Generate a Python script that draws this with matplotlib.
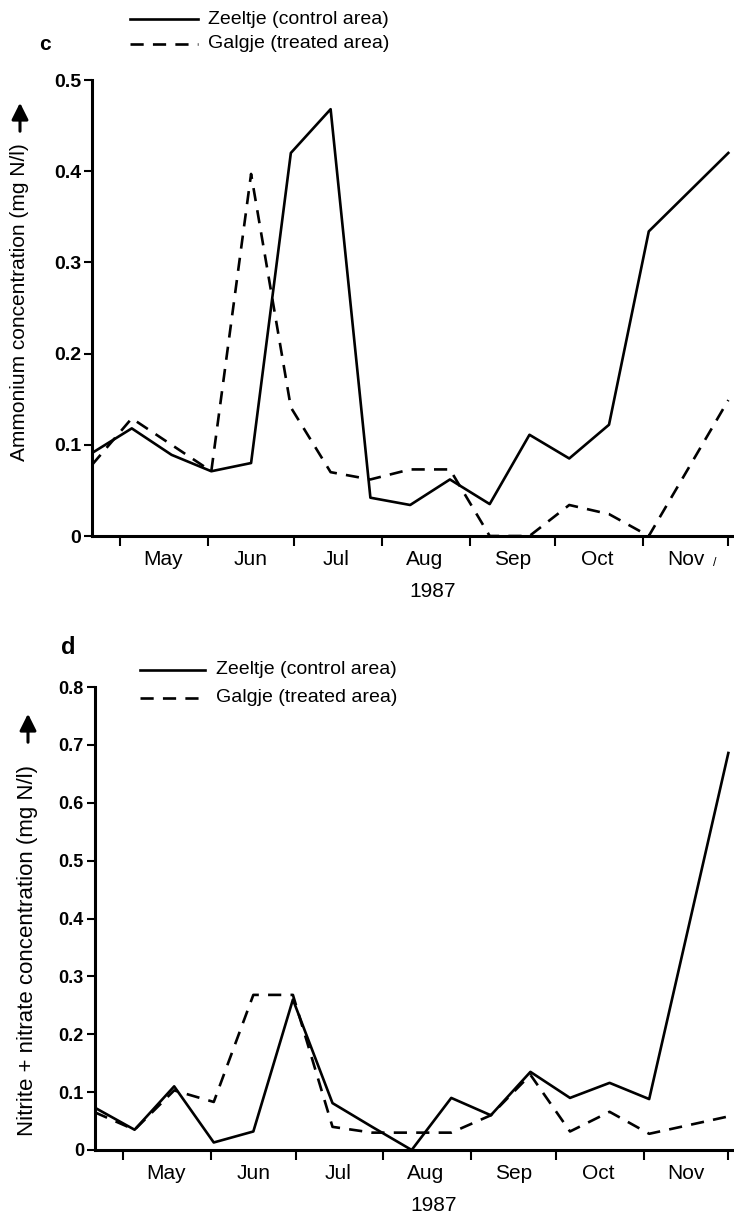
import datetime as dt
import matplotlib
matplotlib.use("Agg")
import matplotlib.pyplot as plt
import matplotlib.dates as mdates

# sampling dates (biweekly), 1987
sample_dates = ["1987-04-21", "1987-05-05", "1987-05-19", "1987-06-02",
                "1987-06-16", "1987-06-30", "1987-07-14", "1987-07-28",
                "1987-08-11", "1987-08-25", "1987-09-08", "1987-09-22",
                "1987-10-06", "1987-10-20", "1987-11-03", "1987-12-01"]

# panel c: ammonium (mg N/l)
nh4_zeeltje = [0.091, 0.118, 0.089, 0.071, 0.080, 0.420, 0.468, 0.042,
               0.034, 0.062, 0.035, 0.111, 0.085, 0.122, 0.334, 0.420]
nh4_galgje = [0.078, 0.129, 0.100, 0.071, 0.397, 0.141, 0.070, 0.062,
              0.073, 0.073, 0.000, 0.000, 0.034, 0.024, 0.000, 0.149]

# panel d: nitrite + nitrate (mg N/l)
no3_zeeltje = [0.073, 0.035, 0.110, 0.013, 0.032, 0.260, 0.081, 0.040,
               0.000, 0.090, 0.060, 0.135, 0.090, 0.116, 0.088, 0.686]
no3_galgje = [0.065, 0.035, 0.103, 0.083, 0.268, 0.268, 0.040, 0.030,
              0.030, 0.030, 0.060, 0.130, 0.032, 0.066, 0.028, 0.058]

nh4_ticks = [0, 0.1, 0.2, 0.3, 0.4, 0.5]
nh4_ticklabels = ["0", "0.1", "0.2", "0.3", "0.4", "0.5"]
no3_ticks = [0, 0.1, 0.2, 0.3, 0.4, 0.5, 0.6, 0.7, 0.8]
no3_ticklabels = ["0", "0.1", "0.2", "0.3", "0.4", "0.5", "0.6", "0.7", "0.8"]

series_names = ["Zeeltje (control area)", "Galgje (treated area)"]

dates = [dt.datetime.strptime(d, "%Y-%m-%d") for d in sample_dates]
x_start = dt.datetime(1987, 4, 21)
x_end = dt.datetime(1987, 12, 3)

txt_font = ["Liberation Sans", "DejaVu Sans"]
W, H = 734, 1221
fig = plt.figure(figsize=(W / 100, H / 100), dpi=100)


def px_box(left, top, right, bottom):
    return [left / W, 1 - bottom / H, (right - left) / W, (bottom - top) / H]


def fx(px):
    return px / W


def fy(px):
    return 1 - px / H


def draw_panel(rect, zeeltje, galgje, ticks, ticklabels, tick_size):
    ax = fig.add_axes(rect)
    ax.plot(dates, zeeltje, color="black", lw=1.9)
    ax.plot(dates, galgje, color="black", lw=1.9, dashes=(5, 3.5))
    ax.set_xlim(x_start, x_end)
    ax.set_ylim(0, ticks[-1])

    for side in ("top", "right"):
        ax.spines[side].set_visible(False)
    for side in ("left", "bottom"):
        ax.spines[side].set_linewidth(2.2)
    ax.patch.set_alpha(0)

    ax.set_yticks(ticks)
    ax.set_yticklabels(ticklabels, fontsize=tick_size, fontweight="bold",
                       family="Liberation Sans")
    ax.tick_params(axis="y", length=6, width=1.5, pad=2)

    ax.xaxis.set_major_locator(mdates.MonthLocator(bymonth=range(5, 13)))
    ax.xaxis.set_major_formatter(plt.NullFormatter())
    ax.xaxis.set_minor_locator(mdates.MonthLocator(bymonth=range(5, 12), bymonthday=16))
    ax.xaxis.set_minor_formatter(mdates.DateFormatter("%b"))
    ax.tick_params(axis="x", which="major", length=7, width=1.5)
    ax.tick_params(axis="x", which="minor", length=0, pad=10)
    for lab in ax.get_xticklabels(minor=True):
        lab.set_family(txt_font)
        lab.set_fontsize(15)

    ax.text(0.53, -0.1, "1987", transform=ax.transAxes, ha="center",
            va="top", family=txt_font, fontsize=15)
    return ax


def y_label(text, x, y_mid, size, arrow_x, arrow_y0, arrow_y1):
    fig.text(fx(x), fy(y_mid), text, rotation=90, ha="center", va="center",
             family=txt_font, fontsize=size)
    fig.add_artist(matplotlib.patches.FancyArrowPatch(
        (fx(arrow_x), fy(arrow_y0)), (fx(arrow_x), fy(arrow_y1)),
        transform=fig.transFigure, arrowstyle="-|>,head_length=5,head_width=2.5",
        color="black", lw=2.2, mutation_scale=2))


ax_c = draw_panel(px_box(92, 80, 734, 536), nh4_zeeltje, nh4_galgje,
                  nh4_ticks, nh4_ticklabels, 14)
ax_d = draw_panel(px_box(95, 687, 734, 1150), no3_zeeltje, no3_galgje,
                  no3_ticks, no3_ticklabels, 13)

y_label("Ammonium concentration (mg N/l)", 20, 302, 15, 20, 134, 100)
y_label("Nitrite + nitrate concentration (mg N/l)", 28, 950, 16, 28, 745, 711)

# small slash after "Nov" in panel c
ax_c.text(0.97, -0.045, "/", transform=ax_c.transAxes, ha="center", va="top",
          fontsize=9, family=txt_font)


def legend_block(x0, x1, y_solid, y_dash, tx):
    fig.lines.append(plt.Line2D([fx(x0), fx(x1)], [fy(y_solid)] * 2,
                                color="black", lw=1.9, transform=fig.transFigure))
    fig.lines.append(plt.Line2D([fx(x0), fx(x1)], [fy(y_dash)] * 2,
                                color="black", lw=1.9, dashes=(5, 3.5),
                                transform=fig.transFigure))
    fig.text(fx(tx), fy(y_solid), series_names[0], family=txt_font,
             fontsize=14, va="center")
    fig.text(fx(tx), fy(y_dash), series_names[1], family=txt_font,
             fontsize=14, va="center")


legend_block(130, 198, 19, 44, 208)
fig.text(fx(45), fy(44), "c", fontsize=15, fontweight="bold",
         ha="center", va="center", family="Liberation Sans")

legend_block(140, 205, 670, 698, 216)
fig.text(fx(68), fy(648), "d", fontsize=17, fontweight="bold",
         ha="center", va="center", family="Liberation Sans")

fig.savefig("out.png", dpi=100, facecolor="white")
